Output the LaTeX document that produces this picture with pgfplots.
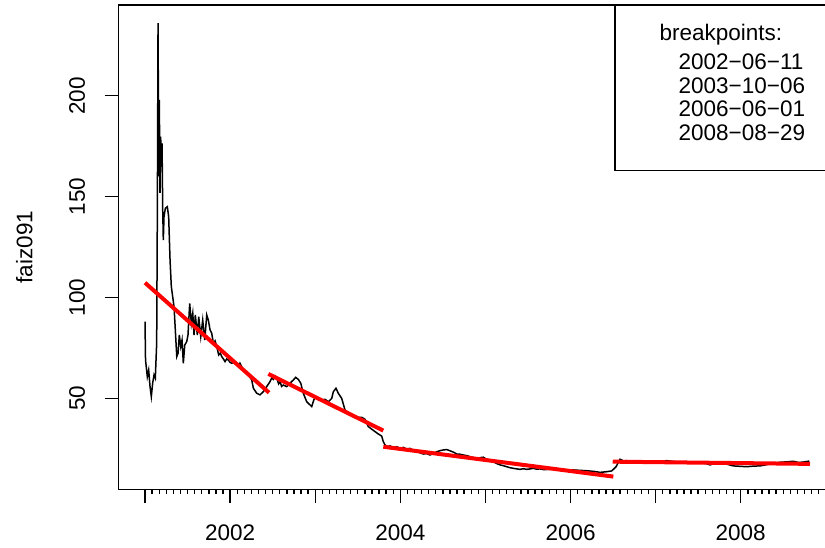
\documentclass[border=0pt]{standalone}
\usepackage{fontspec}
\setmainfont{Liberation Sans}
\usepackage{pgfplots}
\pgfplotsset{compat=1.18}
\begin{document}
\fontsize{11.25bp}{13.5bp}\selectfont
\begin{tikzpicture}
\begin{axis}[
  at={(59.15bp,29.35bp)}, anchor=south west,
  scale only axis, width=354.35bp, height=242.15bp,
  xmin=2000.686, xmax=2009.014, ymin=4.9, ymax=245,
  axis line style={line width=0.6bp},
  tick style={line width=0.7bp, black},
  tick align=outside,
  xtick pos=left, ytick pos=left,
  major tick length=6.75bp, minor tick length=2.5bp,
  xtick={2001,2002,2003,2004,2005,2006,2007,2008},
  xticklabels={,2002,,2004,,2006,,2008},
  minor xtick={
2001.0833,2001.1667,2001.25,2001.3333,2001.4167,2001.5,2001.5833,2001.6667,2001.75,2001.8333,2001.9167,
2002.0833,2002.1667,2002.25,2002.3333,2002.4167,2002.5,2002.5833,2002.6667,2002.75,2002.8333,2002.9167,
2003.0833,2003.1667,2003.25,2003.3333,2003.4167,2003.5,2003.5833,2003.6667,2003.75,2003.8333,2003.9167,
2004.0833,2004.1667,2004.25,2004.3333,2004.4167,2004.5,2004.5833,2004.6667,2004.75,2004.8333,2004.9167,
2005.0833,2005.1667,2005.25,2005.3333,2005.4167,2005.5,2005.5833,2005.6667,2005.75,2005.8333,2005.9167,
2006.0833,2006.1667,2006.25,2006.3333,2006.4167,2006.5,2006.5833,2006.6667,2006.75,2006.8333,2006.9167,
2007.0833,2007.1667,2007.25,2007.3333,2007.4167,2007.5,2007.5833,2007.6667,2007.75,2007.8333,2007.9167,
2008.0833,2008.1667,2008.25,2008.3333,2008.4167,2008.5,2008.5833,2008.6667,2008.75,2008.8333,2008.9167,2009},
  ytick={50,100,150,200},
  yticklabels={50,100,150,200},
  xticklabel style={anchor=north, inner sep=0pt, yshift=-10.6bp, font=\fontsize{11.25bp}{13.5bp}\selectfont},
  yticklabel style={xshift=-9.65bp, rotate=90, anchor=south, inner sep=0pt, font=\fontsize{11.25bp}{13.5bp}\selectfont},
  ylabel={faiz091},
  every axis y label/.style={at={(axis description cs:0,0.5)}, xshift=-47bp, rotate=90, anchor=center, inner sep=0pt, font=\fontsize{11.25bp}{13.5bp}\selectfont},
]
\addplot[black, line width=0.75bp] table {
x y
2001.000 88.0
2001.004 75.0
2001.006 69.0
2001.027 60.7
2001.043 64.0
2001.059 55.8
2001.074 50.8
2001.090 57.6
2001.106 61.6
2001.121 60.0
2001.137 77.3
2001.145 143.4
2001.153 236.0
2001.161 160.0
2001.168 198.0
2001.176 151.8
2001.184 179.7
2001.192 164.8
2001.200 176.4
2001.208 143.4
2001.215 128.5
2001.223 140.0
2001.239 144.2
2001.262 145.0
2001.278 140.0
2001.294 118.6
2001.309 105.4
2001.325 100.4
2001.341 95.4
2001.356 83.9
2001.373 70.7
2001.388 72.3
2001.403 81.4
2001.420 75.6
2001.435 78.9
2001.450 67.4
2001.467 76.4
2001.490 78.1
2001.505 81.4
2001.525 97.1
2001.544 87.2
2001.561 92.2
2001.576 81.4
2001.591 91.3
2001.615 81.4
2001.631 90.5
2001.655 80.6
2001.678 88.8
2001.702 78.9
2001.725 91.3
2001.744 88.8
2001.764 84.0
2001.784 82.2
2001.803 77.3
2001.823 78.5
2001.843 75.6
2001.866 71.5
2001.885 72.4
2001.901 70.7
2001.920 69.6
2001.940 68.2
2001.960 69.5
2001.979 69.0
2002.000 67.8
2002.019 67.4
2002.050 68.0
2002.078 66.5
2002.100 65.8
2002.116 67.4
2002.155 64.0
2002.190 62.6
2002.214 61.6
2002.254 59.1
2002.273 55.0
2002.313 52.5
2002.351 51.7
2002.390 53.3
2002.430 55.8
2002.469 58.3
2002.490 60.2
2002.508 59.4
2002.530 61.0
2002.548 59.9
2002.570 57.2
2002.586 58.3
2002.605 55.9
2002.625 56.6
2002.665 55.8
2002.704 57.5
2002.743 59.1
2002.770 60.4
2002.801 59.4
2002.830 57.5
2002.860 52.5
2002.900 48.3
2002.959 45.9
2002.978 48.5
2002.998 50.8
2003.036 50.0
2003.076 49.2
2003.115 49.5
2003.154 48.3
2003.194 50.0
2003.213 53.3
2003.244 55.0
2003.271 52.5
2003.311 50.0
2003.350 44.2
2003.389 42.9
2003.429 41.7
2003.468 41.2
2003.506 40.6
2003.546 40.6
2003.585 39.6
2003.624 36.0
2003.664 34.7
2003.703 33.5
2003.742 32.3
2003.781 31.3
2003.800 28.5
2003.820 26.9
2003.850 26.0
2003.879 26.4
2003.920 25.5
2003.958 26.0
2004.000 25.1
2004.035 25.7
2004.075 24.8
2004.114 25.2
2004.150 24.3
2004.193 23.9
2004.230 23.0
2004.270 22.4
2004.310 22.6
2004.349 21.9
2004.390 22.8
2004.428 23.5
2004.470 24.1
2004.505 24.4
2004.545 24.6
2004.584 24.0
2004.625 23.3
2004.663 22.4
2004.700 22.3
2004.740 21.9
2004.780 21.6
2004.819 21.1
2004.860 20.6
2004.898 20.3
2004.940 20.6
2004.975 20.8
2005.015 19.8
2005.055 19.3
2005.093 18.6
2005.130 17.7
2005.172 17.0
2005.210 16.6
2005.250 16.1
2005.290 15.6
2005.328 15.3
2005.370 15.0
2005.407 14.8
2005.445 15.1
2005.485 14.8
2005.525 15.0
2005.563 15.3
2005.600 14.9
2005.642 15.0
2005.690 14.6
2005.739 14.8
2005.800 14.9
2005.877 14.8
2005.950 14.4
2006.033 14.5
2006.110 14.3
2006.190 14.1
2006.270 13.8
2006.347 13.3
2006.420 13.6
2006.484 14.0
2006.535 16.1
2006.582 19.8
2006.620 19.0
2006.660 19.1
2006.720 18.8
2006.778 18.6
2006.840 18.9
2006.895 18.6
2006.950 18.7
2007.013 18.8
2007.070 18.5
2007.130 19.1
2007.210 18.7
2007.287 18.3
2007.360 18.6
2007.443 18.3
2007.540 18.0
2007.600 17.6
2007.639 17.0
2007.700 17.8
2007.757 18.1
2007.840 17.3
2007.913 16.5
2007.990 16.3
2008.070 16.1
2008.150 16.4
2008.227 16.5
2008.290 17.0
2008.344 17.5
2008.400 18.0
2008.462 18.3
2008.540 18.5
2008.618 18.8
2008.680 18.2
2008.735 18.4
2008.806 18.9
};
\addplot[red, line width=2bp] coordinates {(2001.000,107.3) (2002.457,52.8)};
\addplot[red, line width=2bp] coordinates {(2002.449,62.1) (2003.800,34.0)};
\addplot[red, line width=2bp] coordinates {(2003.800,26.0) (2006.503,11.2)};
\addplot[red, line width=2bp] coordinates {(2006.496,18.6) (2008.814,17.5)};
\end{axis}
\begin{scope}[shift={(0bp,274bp)}, x=0.5bp, y=-0.5bp]
\draw[line width=0.6bp] (615,5) -- (615,170.7) -- (840,170.7);
\node[anchor=base west, inner sep=0pt] at (659.3,40.7) {breakpoints:};
\node[anchor=base west, inner sep=0pt] at (678.3,70.0) {2002−06−11};
\node[anchor=base west, inner sep=0pt] at (678.3,93.3) {2003−10−06};
\node[anchor=base west, inner sep=0pt] at (678.3,116.7) {2006−06−01};
\node[anchor=base west, inner sep=0pt] at (678.3,140.3) {2008−08−29};
\end{scope}
\pgfresetboundingbox
\useasboundingbox (0,0) rectangle (412.5bp,274bp);
\end{tikzpicture}
\end{document}
